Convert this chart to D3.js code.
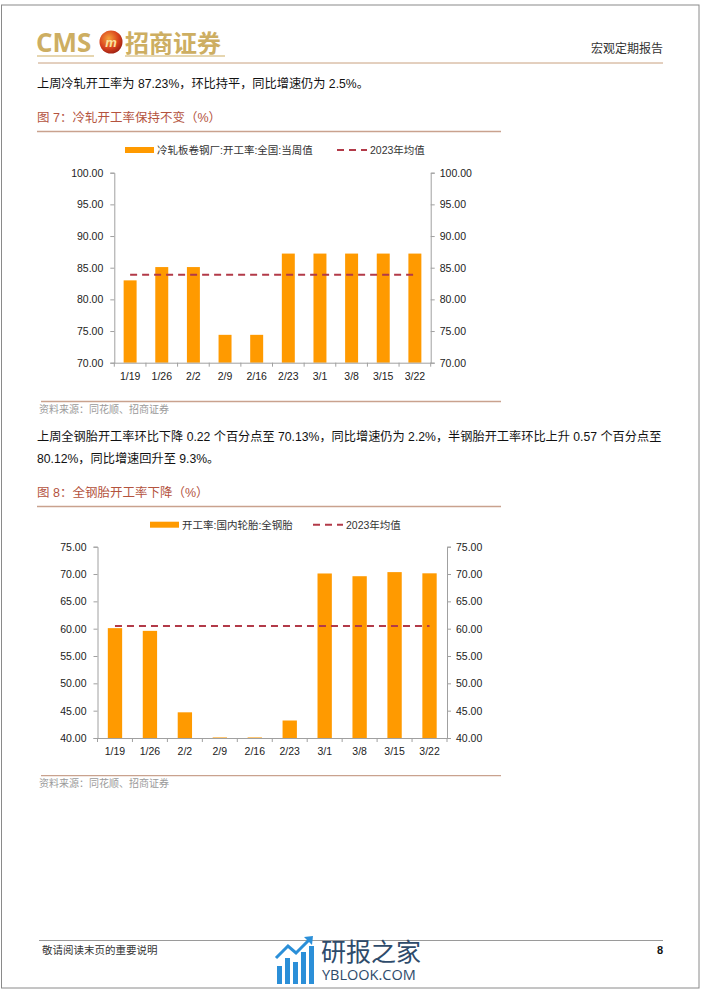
<!DOCTYPE html>
<html>
<head>
<meta charset="utf-8">
<script src="https://cdn.jsdelivr.net/npm/d3@7.9.0/dist/d3.min.js"></script>
<style>
  html, body { margin: 0; padding: 0; background: #fff; }
  svg { display: block; font-family: "Liberation Sans", Arial, "Noto Sans CJK SC", sans-serif; }
  .cjk { font-family: "Liberation Sans", "Noto Sans CJK SC", sans-serif; }
</style>
</head>
<body>
<svg id="page" width="702" height="991"></svg>
<script>
// data
const dates = ['1/19', '1/26', '2/2', '2/9', '2/16', '2/23', '3/1', '3/8', '3/15', '3/22'];
const coldRolled = [83.0, 85.1, 85.1, 74.4, 74.4, 87.23, 87.23, 87.23, 87.23, 87.23];
const coldRolledAvg = 83.9;
const coldTicks = [70, 75, 80, 85, 90, 95, 100];
const allSteelTire = [60.1, 59.6, 44.7, 40.1, 40.1, 43.2, 70.1, 69.6, 70.35, 70.13];
const allSteelAvg = 60.5;
const tireTicks = [40, 45, 50, 55, 60, 65, 70, 75];

const barColor = '#FF9A00';
const avgColor = '#B23A48';
const axisColor = '#A0A0A0';
const titleColor = '#B4533E';
const ruleColor = '#C9A28E';

const svg = d3.select('#page');

// page frame
svg.append('rect')
  .attr('x', 1.5).attr('y', 5).attr('width', 697.5).attr('height', 983)
  .attr('fill', 'none').attr('stroke', '#8a8a8a').attr('stroke-width', 1);

// header
svg.append('text').attr('x', 36).attr('y', 52)
  .attr('fill', '#CDAE62').attr('font-size', 26).attr('font-weight', 'bold')
  .attr('font-family', '"Open Sans", "Liberation Sans", sans-serif')
  .text('CMS');
svg.append('line').attr('x1', 37).attr('x2', 94).attr('y1', 56).attr('y2', 56)
  .attr('stroke', '#CDAE62').attr('stroke-width', 1.2);

const grad = svg.append('defs').append('radialGradient').attr('id', 'logoGrad')
  .attr('cx', '40%').attr('cy', '35%').attr('r', '70%');
grad.append('stop').attr('offset', '0%').attr('stop-color', '#F6A33A');
grad.append('stop').attr('offset', '60%').attr('stop-color', '#D9431E');
grad.append('stop').attr('offset', '100%').attr('stop-color', '#9A1E12');
svg.append('circle').attr('cx', 111).attr('cy', 42).attr('r', 11.5).attr('fill', 'url(#logoGrad)');
svg.append('text').attr('x', 111).attr('y', 47).attr('text-anchor', 'middle')
  .attr('fill', '#FBE3A0').attr('font-size', 13).attr('font-weight', 'bold')
  .attr('font-style', 'italic').text('m');

svg.append('text').attr('class', 'cjk').attr('x', 125).attr('y', 52)
  .attr('fill', '#CDAE62').attr('font-size', 24).attr('font-weight', 'bold')
  .text('招商证券');
svg.append('line').attr('x1', 125).attr('x2', 225).attr('y1', 56).attr('y2', 56)
  .attr('stroke', '#CDAE62').attr('stroke-width', 1.2);

svg.append('text').attr('class', 'cjk').attr('x', 663).attr('y', 53)
  .attr('text-anchor', 'end').attr('font-size', 12).attr('fill', '#333')
  .text('宏观定期报告');
svg.append('line').attr('x1', 38).attr('x2', 663).attr('y1', 63).attr('y2', 63)
  .attr('stroke', '#C8A07E').attr('stroke-width', 1);

// body text
function para(y, txt) {
  svg.append('text').attr('class', 'cjk').attr('x', 37).attr('y', y)
    .attr('font-size', 12.2).attr('fill', '#111').text(txt);
}
para(88, '上周冷轧开工率为 87.23%，环比持平，同比增速仍为 2.5%。');
para(441, '上周全钢胎开工率环比下降 0.22 个百分点至 70.13%，同比增速仍为 2.2%，半钢胎开工率环比上升 0.57 个百分点至');
para(463, '80.12%，同比增速回升至 9.3%。');

function figTitle(y, txt) {
  svg.append('text').attr('class', 'cjk').attr('x', 37).attr('y', y)
    .attr('font-size', 12.5).attr('fill', titleColor).text(txt);
  svg.append('line').attr('x1', 37).attr('x2', 501).attr('y1', y + 9.5).attr('y2', y + 9.5)
    .attr('stroke', ruleColor).attr('stroke-width', 1.3);
}
figTitle(122, '图 7：冷轧开工率保持不变（%）');
figTitle(497, '图 8：全钢胎开工率下降（%）');

function source(y) {
  svg.append('line').attr('x1', 41).attr('x2', 501).attr('y1', y).attr('y2', y)
    .attr('stroke', ruleColor).attr('stroke-width', 1.3);
  svg.append('text').attr('class', 'cjk').attr('x', 39).attr('y', y + 11.5)
    .attr('font-size', 10).attr('fill', '#9a9a9a').text('资料来源：同花顺、招商证券');
}
source(401.5);
source(775.7);

// bar chart with mirrored right axis and dashed average line
function drawChart(cfg) {
  const g = svg.append('g');
  const x = d3.scaleBand().domain(dates).range([cfg.left, cfg.right])
    .paddingInner(0.59).paddingOuter(0.295);
  const y = d3.scaleLinear().domain(cfg.domain).range([cfg.bottom, cfg.top]);

  const yl = g.append('g').attr('transform', `translate(${cfg.left},0)`)
    .call(d3.axisLeft(y).tickValues(cfg.ticks).tickFormat(d3.format('.2f'))
      .tickSizeOuter(0).tickSize(4).tickPadding(7));
  const yr = g.append('g').attr('transform', `translate(${cfg.right},0)`)
    .call(d3.axisRight(y).tickValues(cfg.ticks).tickFormat(d3.format('.2f'))
      .tickSizeOuter(0).tickSize(4).tickPadding(5));
  [yl, yr].forEach(a => {
    a.select('.domain').attr('stroke', axisColor);
    a.selectAll('.tick line').attr('stroke', axisColor);
    a.selectAll('.tick text').attr('font-size', 10.5).attr('fill', '#222')
      .attr('font-family', '"Liberation Sans", Arial, sans-serif');
  });

  g.selectAll('rect.bar').data(cfg.values).join('rect')
    .attr('class', 'bar')
    .attr('x', (d, i) => x(dates[i]))
    .attr('width', x.bandwidth())
    .attr('y', d => y(d))
    .attr('height', d => y(cfg.domain[0]) - y(d))
    .attr('fill', barColor);

  const xb = g.append('g').attr('transform', `translate(0,${cfg.bottom})`)
    .call(d3.axisBottom(x).tickSize(0).tickPadding(10));
  xb.select('.domain').attr('stroke', axisColor);
  xb.selectAll('.tick text').attr('font-size', 10.5).attr('fill', '#222')
    .attr('font-family', '"Liberation Sans", Arial, sans-serif');
  // category separators
  g.selectAll('line.sep').data(d3.range(dates.length + 1)).join('line')
    .attr('class', 'sep')
    .attr('x1', i => cfg.left + i * x.step()).attr('x2', i => cfg.left + i * x.step())
    .attr('y1', cfg.bottom).attr('y2', cfg.bottom + 4)
    .attr('stroke', axisColor);

  g.append('line')
    .attr('x1', x(dates[0]) + x.bandwidth() / 2)
    .attr('x2', x(dates[dates.length - 1]) + x.bandwidth() / 2)
    .attr('y1', y(cfg.avg)).attr('y2', y(cfg.avg))
    .attr('stroke', avgColor).attr('stroke-width', 2).attr('stroke-dasharray', '7,5');

  // legend
  const ly = cfg.legendY;
  g.append('rect').attr('x', cfg.legendX).attr('y', ly - 3).attr('width', 29).attr('height', 6)
    .attr('fill', barColor);
  g.append('text').attr('class', 'cjk').attr('x', cfg.legendX + 32).attr('y', ly + 4)
    .attr('font-size', 10.5).attr('fill', '#333').text(cfg.label);
  g.append('line').attr('x1', cfg.legend2X).attr('x2', cfg.legend2X + 30)
    .attr('y1', ly).attr('y2', ly)
    .attr('stroke', avgColor).attr('stroke-width', 2).attr('stroke-dasharray', '7,5');
  g.append('text').attr('class', 'cjk').attr('x', cfg.legend2X + 33).attr('y', ly + 4)
    .attr('font-size', 10.5).attr('fill', '#333').text('2023年均值');
}

drawChart({
  values: coldRolled, avg: coldRolledAvg, ticks: coldTicks, domain: [70, 100],
  left: 114.3, right: 430.7, top: 172.7, bottom: 362.7,
  legendX: 125, legend2X: 337, legendY: 150,
  label: '冷轧板卷钢厂:开工率:全国:当周值'
});
drawChart({
  values: allSteelTire, avg: allSteelAvg, ticks: tireTicks, domain: [40, 75],
  left: 97.5, right: 447, top: 546.7, bottom: 738,
  legendX: 150, legend2X: 313, legendY: 524.7,
  label: '开工率:国内轮胎:全钢胎'
});

// footer
svg.append('line').attr('x1', 39).attr('x2', 663).attr('y1', 940.5).attr('y2', 940.5)
  .attr('stroke', '#9a9a9a').attr('stroke-width', 1);
svg.append('text').attr('class', 'cjk').attr('x', 42).attr('y', 954)
  .attr('font-size', 10.5).attr('fill', '#333').text('敬请阅读末页的重要说明');
svg.append('text').attr('x', 663).attr('y', 954).attr('text-anchor', 'end')
  .attr('font-size', 11).attr('font-weight', 'bold').attr('fill', '#111').text('8');

// watermark
const wm = svg.append('g');
const wmBars = [[277, 966, 5], [285, 958, 5], [293, 962, 5], [301, 952, 5], [309, 946, 5]];
wmBars.forEach(([bx, by, bw]) => {
  wm.append('rect').attr('x', bx).attr('y', by).attr('width', bw).attr('height', 984 - by)
    .attr('fill', '#2B8FD8');
});
wm.append('path').attr('d', 'M276,958 L288,946 L296,953 L310,939')
  .attr('fill', 'none').attr('stroke', '#2B8FD8').attr('stroke-width', 3);
wm.append('path').attr('d', 'M304,937 L313,936 L312,945 Z').attr('fill', '#2B8FD8');
wm.append('text').attr('class', 'cjk').attr('x', 321).attr('y', 961)
  .attr('font-size', 25).attr('fill', '#2E4B6B').text('研报之家');
wm.append('text').attr('x', 322).attr('y', 980)
  .attr('font-size', 14.5).attr('fill', '#2E4B6B')
  .attr('font-family', '"Open Sans", "Liberation Sans", sans-serif').text('YBLOOK.COM');
</script>
</body>
</html>
